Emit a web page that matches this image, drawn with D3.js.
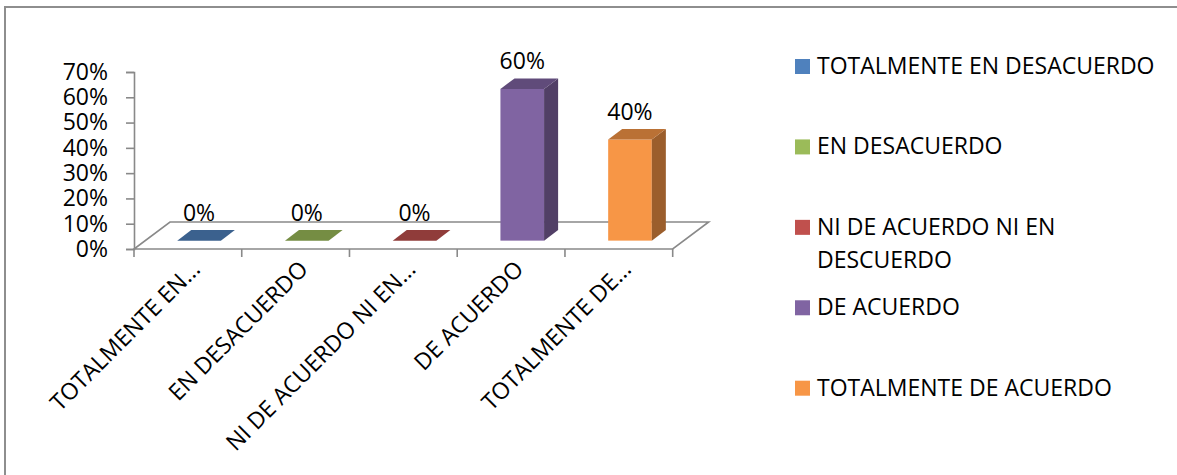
<!DOCTYPE html>
<html>
<head>
<meta charset="utf-8">
<script src="https://cdn.jsdelivr.net/npm/d3@7"></script>
<style>
  html, body { margin: 0; padding: 0; background: #fff; }
  svg { display: block; }
  text { font-family: "Open Sans", sans-serif; fill: #000; }
</style>
</head>
<body>
<svg id="chart" width="1177" height="475"></svg>
<script>
// ---- data ----
const categories = ["TOTALMENTE EN DESACUERDO", "EN DESACUERDO", "NI DE ACUERDO NI EN DESCUERDO", "DE ACUERDO", "TOTALMENTE DE ACUERDO"];
const tickLabels = ["TOTALMENTE EN...", "EN DESACUERDO", "NI DE ACUERDO NI EN...", "DE ACUERDO", "TOTALMENTE DE..."];
const values = [0, 0, 0, 0.6, 0.4];
const yTicks = [0, 0.1, 0.2, 0.3, 0.4, 0.5, 0.6, 0.7];
const colors = ["#4F81BD", "#9BBB59", "#C0504D", "#8064A2", "#F79646"];

// ---- layout ----
const svg = d3.select("#chart");
const fontSize = 23;
const gray = "#898989";

svg.append("rect").attr("x", 5).attr("y", 7).attr("width", 1250).attr("height", 550)
  .attr("fill", "#fff").attr("stroke", "#8e8e8e").attr("stroke-width", 2);

const x = d3.scaleBand().domain(categories).range([134, 672.7]).padding(0);
const y = d3.scaleLinear().domain([0, 0.7]).range([249, 72]);
const depth = { dx: 36, dy: -27 };
const f0 = 0.31, f1 = 0.70;
const bw = x.bandwidth();
const barW = bw * 0.405;
const ddx = depth.dx * (f1 - f0), ddy = depth.dy * (f1 - f0);

// floor
const y0 = y(0), xL = x.range()[0], xR = x.range()[1];
svg.append("path")
  .attr("d", d3.line()([[xL, y0], [xR, y0], [xR + depth.dx, y0 + depth.dy], [xL + depth.dx, y0 + depth.dy]]) + "Z")
  .attr("fill", "none").attr("stroke", gray).attr("stroke-width", 1.6);

// y axis
const yAxis = d3.axisLeft(y).tickValues(yTicks).tickFormat(d3.format(".0%")).tickSize(8).tickPadding(18);
const gy = svg.append("g").attr("transform", `translate(${xL},0)`).call(yAxis);
gy.select(".domain").attr("stroke", gray).attr("stroke-width", 1.6);
gy.selectAll(".tick line").attr("stroke", gray).attr("stroke-width", 1.6);
gy.selectAll(".tick text").attr("font-size", fontSize).attr("font-family", "Open Sans").attr("fill", "#000");

// x axis
const boundaries = categories.map(c => x(c)).concat([xR]);
svg.append("g").selectAll("line").data(boundaries).join("line")
  .attr("x1", d => d).attr("x2", d => d).attr("y1", y0).attr("y2", y0 + 8)
  .attr("stroke", gray).attr("stroke-width", 1.6);

svg.append("g").selectAll("text").data(categories).join("text")
  .attr("transform", (c) => `translate(${x(c) + bw / 2 + 8},${y0 + 16}) rotate(-45)`)
  .attr("text-anchor", "end").attr("dy", "0.35em")
  .attr("font-size", fontSize)
  .text((c, i) => tickLabels[i]);

// bars
const bars = svg.append("g");
categories.forEach((c, i) => {
  const v = values[i];
  const bx = x(c) + (bw - barW) / 2 + depth.dx * f0;
  const bottom = y(0) + depth.dy * f0;
  const top = y(v) + depth.dy * f0;
  const col = d3.rgb(colors[i]);
  const topCol = col.darker(0.8).formatHex();
  const sideCol = col.darker(1.3).formatHex();
  if (v > 0) {
    bars.append("rect").attr("x", bx).attr("y", top).attr("width", barW).attr("height", bottom - top)
      .attr("fill", colors[i]);
    bars.append("path")
      .attr("d", d3.line()([[bx + barW, top], [bx + barW + ddx, top + ddy], [bx + barW + ddx, bottom + ddy], [bx + barW, bottom]]) + "Z")
      .attr("fill", sideCol);
  }
  bars.append("path")
    .attr("d", d3.line()([[bx, top], [bx + barW, top], [bx + barW + ddx, top + ddy], [bx + ddx, top + ddy]]) + "Z")
    .attr("fill", topCol);
  bars.append("text")
    .attr("x", bx + barW / 2).attr("y", top + ddy - 9)
    .attr("text-anchor", "middle").attr("font-size", fontSize)
    .text(d3.format(".0%")(v));
});

// legend
const ly = d3.scalePoint().domain(categories).range([74, 395.7]);
const legend = svg.append("g");
categories.forEach((c, i) => {
  const by = ly(c);
  legend.append("rect").attr("x", 795).attr("y", by - 15).attr("width", 15).attr("height", 15).attr("fill", colors[i]);
  const t = legend.append("text").attr("x", 817).attr("y", by).attr("font-size", fontSize);
  const maxW = 350;
  const words = c.split(" ");
  let line = [];
  let tspan = t.append("tspan").attr("x", 817).attr("dy", 0);
  words.forEach(w => {
    line.push(w);
    tspan.text(line.join(" "));
    if (tspan.node().getComputedTextLength() > maxW && line.length > 1) {
      line.pop();
      tspan.text(line.join(" "));
      line = [w];
      tspan = t.append("tspan").attr("x", 817).attr("dy", 32.7).text(w);
    }
  });
});
</script>
</body>
</html>
